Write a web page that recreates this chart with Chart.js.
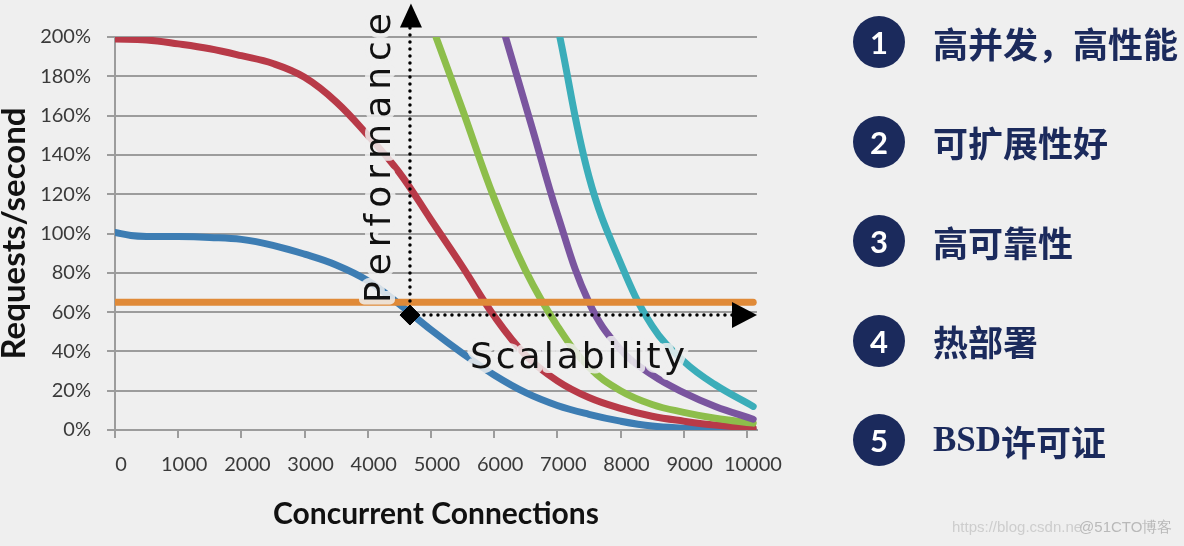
<!DOCTYPE html>
<html>
<head>
<meta charset="utf-8">
<script src="https://cdn.jsdelivr.net/npm/chart.js@4"></script>
<style>
    html, body { margin: 0; padding: 0; background: #efefef; }
    #wrap { position: relative; width: 1184px; height: 546px; overflow: hidden; }
    .badge {
        position: absolute; width: 52px; height: 52px; border-radius: 50%;
        background: #1b2a5c; color: #fff; text-align: center;
        font: bold 31px "Lato", sans-serif; line-height: 52px;
    }
    .item {
        position: absolute; height: 52px; display: flex; align-items: center;
        color: #1b2a5c; font: 700 35px "Noto Sans CJK SC", sans-serif; white-space: nowrap;
    }
    .item .latin { font-family: "Liberation Serif", serif; font-weight: bold; }
    #mark { position: absolute; left: 952px; top: 518px; font: 15px "Liberation Sans", sans-serif; color: #cdcdcd; white-space: nowrap; }
    #mark span { color: #b9b9b9; margin-left: -3px; }
</style>
</head>
<body>
<div id="wrap">
    <canvas id="chart" width="1184" height="546"></canvas>
    <div id="mark">https://blog.csdn.ne<span>@51CTO博客</span></div>
</div>
<script>
// values (x = concurrent connections, y = requests/second in %)
const blueX = [0, 250, 500, 1000, 1500, 2000, 2500, 3000, 3500, 4000, 4500, 5000, 5500, 6000, 6500, 7000, 7500, 8000, 8500, 9000, 9500, 10100];
const blueY = [100.5, 99, 98.5, 98.5, 98, 97, 94, 89.5, 84, 76, 64, 51, 39, 28, 19, 12.5, 8, 4.5, 2, 1, 0.5, 0];

const redX = [0, 500, 1000, 1500, 2000, 2500, 3000, 3500, 4000, 4500, 5000, 5500, 6000, 6500, 7000, 7500, 8000, 8500, 9000, 9500, 10100];
const redY = [199, 198.5, 196.5, 194, 190.5, 186.5, 179.5, 167, 150, 131, 107, 83, 58, 38, 25, 16.5, 11, 7, 4.5, 2.5, 1];

const greenX = [5080, 5500, 6000, 6500, 7000, 7500, 8000, 8500, 9000, 9500, 10100];
const greenY = [200, 163, 118, 81, 53, 32, 20, 13, 9, 6, 3.5];

const purpleX = [6180, 6600, 7000, 7500, 8000, 8500, 9000, 9500, 10100];
const purpleY = [200, 154, 110, 65, 41, 28, 19, 12, 5.5];

const tealX = [7040, 7500, 8000, 8500, 9000, 9500, 10100];
const tealY = [200, 129, 85, 53, 35, 23, 12];

const limitX = [0, 10100];
const limitY = [65, 65];

const markerX = [4668];
const markerY = [58.5];

const arrowTopY = 217;      // where the "Performance" arrow ends (value units)
const arrowRightX = 10160;  // where the "Scalability" arrow ends

const xTicks = [0, 1000, 2000, 3000, 4000, 5000, 6000, 7000, 8000, 9000, 10000];
const yTicks = [0, 20, 40, 60, 80, 100, 120, 140, 160, 180, 200];

const listLabels = ['高并发，高性能', '可扩展性好', '高可靠性', '热部署', 'BSD许可证'];

function pts(xs, ys) {
    return xs.map((x, i) => ({ x: x, y: ys[i] }));
}

function curve(xs, ys, color) {
    return {
        data: pts(xs, ys),
        borderColor: color,
        borderWidth: 7,
        borderCapStyle: 'round',
        pointRadius: 0,
        showLine: true,
        tension: 0.4
    };
}

// list on the right
const wrap = document.getElementById('wrap');
listLabels.forEach((label, i) => {
    const cy = 42 + i * 99.5;
    const badge = document.createElement('div');
    badge.className = 'badge';
    badge.style.left = '853px';
    badge.style.top = (cy - 26) + 'px';
    badge.textContent = String(i + 1);
    wrap.appendChild(badge);

    const item = document.createElement('div');
    item.className = 'item';
    item.style.left = '933px';
    item.style.top = (cy - 26) + 'px';
    item.innerHTML = label.replace(/^([A-Za-z]+)/, '<span class="latin">$1</span>');
    wrap.appendChild(item);
});

function spacedText(ctx, text, x, y, gap, stroke) {
    let cx = x;
    for (const ch of text) {
        if (stroke) ctx.strokeText(ch, cx, y);
        else ctx.fillText(ch, cx, y);
        cx += ctx.measureText(ch).width + gap;
    }
}

const arrows = {
    id: 'arrows',
    afterDatasetsDraw(chart) {
        const { ctx, scales } = chart;
        const px = scales.x.getPixelForValue(markerX[0]);
        const py = scales.y.getPixelForValue(markerY[0]);
        const topY = scales.y.getPixelForValue(arrowTopY);
        const endX = scales.x.getPixelForValue(arrowRightX);

        ctx.save();
        ctx.font = '36px "DejaVu Sans"';
        ctx.textBaseline = 'alphabetic';
        ctx.lineJoin = 'round';

        // Performance (vertical)
        ctx.save();
        ctx.translate(px - 20, py - 12);
        ctx.rotate(-Math.PI / 2);
        ctx.strokeStyle = 'rgba(239,239,239,0.85)';
        ctx.lineWidth = 10;
        spacedText(ctx, 'Performance', 0, 0, 6, true);
        ctx.fillStyle = '#111';
        spacedText(ctx, 'Performance', 0, 0, 6, false);
        ctx.restore();

        // Scalability (horizontal)
        ctx.strokeStyle = 'rgba(239,239,239,0.85)';
        ctx.lineWidth = 10;
        spacedText(ctx, 'Scalability', px + 60, py + 53, 3, true);
        ctx.fillStyle = '#111';
        spacedText(ctx, 'Scalability', px + 60, py + 53, 3, false);

        // dotted arrows
        ctx.strokeStyle = '#000';
        ctx.fillStyle = '#000';
        ctx.lineWidth = 3.5;
        ctx.lineCap = 'round';
        ctx.setLineDash([0, 7]);
        ctx.beginPath();
        ctx.moveTo(px, py);
        ctx.lineTo(px, topY + 24);
        ctx.moveTo(px, py);
        ctx.lineTo(endX - 25, py);
        ctx.stroke();
        ctx.setLineDash([]);

        ctx.beginPath();
        ctx.moveTo(px + 1, topY);
        ctx.lineTo(px + 12, topY + 24);
        ctx.lineTo(px - 10, topY + 24);
        ctx.closePath();
        ctx.fill();

        ctx.beginPath();
        ctx.moveTo(endX, py);
        ctx.lineTo(endX - 25, py - 13);
        ctx.lineTo(endX - 25, py + 13);
        ctx.closePath();
        ctx.fill();
        ctx.restore();
    }
};

const marker = {
    data: pts(markerX, markerY),
    pointStyle: 'rectRot',
    pointRadius: 10,
    backgroundColor: '#000',
    borderColor: '#000',
    showLine: false
};

const tickFont = { family: 'Lato', size: 20 };

new Chart(document.getElementById('chart'), {
    type: 'scatter',
    data: {
        datasets: [
            marker,
            curve(limitX, limitY, '#e08a38'),
            curve(tealX, tealY, '#3badb9'),
            curve(purpleX, purpleY, '#7a559f'),
            curve(greenX, greenY, '#8dbe4b'),
            curve(redX, redY, '#b83a48'),
            curve(blueX, blueY, '#3d7db3')
        ]
    },
    options: {
        responsive: false,
        animation: false,
        layout: { padding: { left: 0, top: 37, right: 427, bottom: 0 } },
        plugins: { legend: { display: false }, tooltip: { enabled: false } },
        scales: {
            x: {
                type: 'linear',
                min: 0,
                max: 10160,
                afterFit: s => { s.height = 116; },
                afterBuildTicks: s => { s.ticks = xTicks.map(v => ({ value: v })); },
                ticks: { font: tickFont, color: '#3a3a3a', padding: 15, labelOffset: 6, maxRotation: 0, autoSkip: false, callback: v => String(v) },
                grid: { drawOnChartArea: false, drawTicks: true, tickLength: 8, color: '#9c9c9c', lineWidth: 2 },
                border: { color: '#9c9c9c', width: 2 },
                title: { display: true, text: 'Concurrent Connections', font: { family: 'Lato', size: 30, weight: 'bold', lineHeight: 1 }, color: '#111', padding: { top: 0, bottom: 17 } }
            },
            y: {
                min: 0,
                max: 200,
                afterFit: s => { s.width = 115; },
                afterBuildTicks: s => { s.ticks = yTicks.map(v => ({ value: v })); },
                ticks: { font: tickFont, color: '#3a3a3a', padding: 16, callback: v => v + '%' },
                grid: { color: '#9c9c9c', lineWidth: 2, tickLength: 8 },
                border: { color: '#9c9c9c', width: 2 },
                title: { display: true, text: 'Requests/second', font: { family: 'Lato', size: 33, weight: 'bold', lineHeight: 0.9 }, color: '#111', padding: 0 }
            }
        }
    },
    plugins: [arrows]
});
</script>
</body>
</html>
